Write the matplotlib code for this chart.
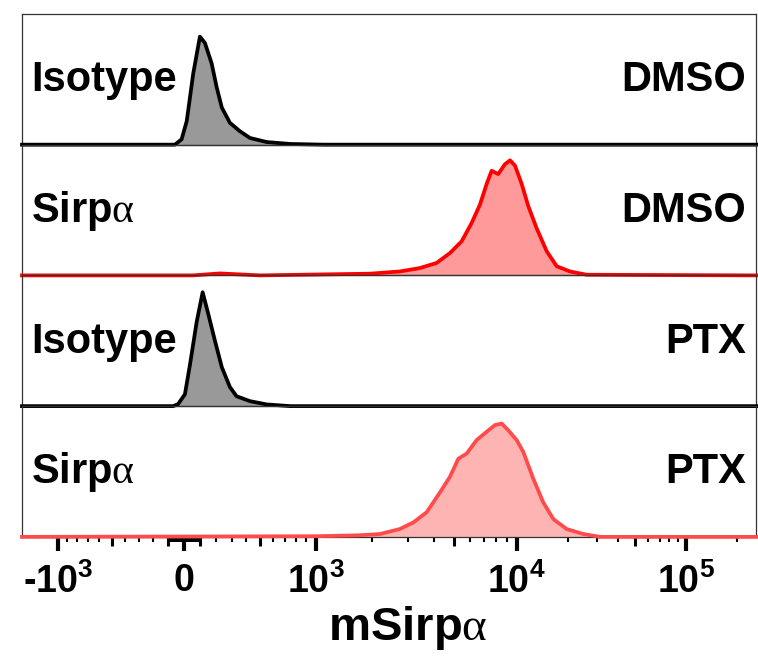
import numpy as np
import matplotlib
matplotlib.use("Agg")
import matplotlib.pyplot as plt

plt.rcParams['font.family'] = ['Liberation Sans', 'DejaVu Sans']
plt.rcParams['mathtext.fontset'] = 'custom'
plt.rcParams['mathtext.bf'] = 'Liberation Sans:bold'
plt.rcParams['mathtext.rm'] = 'Liberation Serif'

# x range of the cytometer axis
XMIN, XMAX = -1470, 262144

# histograms, % of panel height
iso_dmso_x = [XMIN, -58, -15, 17, 57, 98, 129, 171, 203, 236, 289, 356, 427, 552, 749, 1100, XMAX]
iso_dmso_y = [0, 0, 4.1, 18, 54.5, 82.6, 77.8, 62.2, 43.9, 28.4, 16.7, 10.3, 5.1, 2, 0.5, 0, 0]

sirp_dmso_x = [XMIN, 55, 224, 498, 1944, 2738, 3430, 4131, 4788, 5453, 6090, 6671, 7189, 7595,
               8162, 8785, 9296, 9814, 10703, 11711, 13132, 15050, 17255, 20685, 25956, XMAX]
sirp_dmso_y = [0, 0, 1.5, 0, 1.3, 3, 5.6, 9.5, 17, 26, 40, 54, 70, 80,
               77.5, 85, 88, 84, 70, 53, 36, 18.5, 7, 3, 0.5, 0]

iso_ptx_x = [XMIN, -70, -38, 6, 37, 78, 115, 150, 192, 236, 289, 333, 427, 552, 749, XMAX]
iso_ptx_y = [0, 0, 1.5, 9.1, 31.8, 64.4, 87.1, 70.5, 50, 29.8, 14.6, 7.6, 3.8, 1.3, 0, 0]

sirp_ptx_x = [XMIN, 1000, 1700, 2186, 2738, 3185, 3700, 4290, 4788, 5262, 5766, 6433, 7189,
              7874, 8477, 9107, 10000, 10941, 12530, 14350, 16485, 19768, 24780, 31150, XMAX]
sirp_ptx_y = [0, 0.5, 1.2, 2.2, 6, 11, 18.8, 34, 45.8, 59.8, 63.7, 74, 80.4,
              85.5, 86.7, 81.6, 74, 65, 44.6, 26.5, 13.6, 6, 2.2, 0, 0]

left_labels = ["Isotype", "Sirp$\\mathrm{\\alpha}$", "Isotype", "Sirp$\\mathrm{\\alpha}$"]
right_labels = ["DMSO", "DMSO", "PTX", "PTX"]

major_vals = [-1000, 0, 1000, 10000, 100000]
major_labels = ["-$\\mathbf{10^{3}}$", "0", "$\\mathbf{10^{3}}$", "$\\mathbf{10^{4}}$", "$\\mathbf{10^{5}}$"]
mid_vals = [-500, -100, 100, 500, 5000, 50000]

# logicle-like axis: arcsinh, stretched per decade to match the original
C = 700.0
_anchor_u = np.arcsinh(np.array(major_vals, dtype=float) / C)
_anchor_p = np.array([58.3, 184.0, 316.0, 516.7, 685.7])
_sl = (_anchor_p[1] - _anchor_p[0]) / (_anchor_u[1] - _anchor_u[0])
_sr = (_anchor_p[-1] - _anchor_p[-2]) / (_anchor_u[-1] - _anchor_u[-2])
U = np.concatenate([[-30.0], _anchor_u, [30.0]])
P = np.concatenate([[_anchor_p[0] - (_anchor_u[0] + 30) * _sl], _anchor_p,
                    [_anchor_p[-1] + (30 - _anchor_u[-1]) * _sr]])


def fwd(x):
    return np.interp(np.arcsinh(np.asarray(x, dtype=float) / C), U, P)


def inv(p):
    return C * np.sinh(np.interp(np.asarray(p, dtype=float), P, U))


minor_vals = []
for k in range(1, 10):
    minor_vals += [k * 10, -k * 10]
for k in range(2, 10):
    if k != 5:
        minor_vals += [k * 100, -k * 100, k * 1000, k * 10000]
minor_vals += [200000]

panels = [
    (iso_dmso_x, iso_dmso_y, "black", "#999999"),
    (sirp_dmso_x, sirp_dmso_y, "#ff0000", "#ff9a9a"),
    (iso_ptx_x, iso_ptx_y, "black", "#999999"),
    (sirp_ptx_x, sirp_ptx_y, "#ff4b4b", "#ffb4b4"),
]

fig, axes = plt.subplots(4, 1, figsize=(7.58, 6.62), dpi=100, sharex=True,
                         gridspec_kw=dict(hspace=0))
fig.subplots_adjust(left=0.029, right=0.998, top=0.979, bottom=0.189)

for i, ax in enumerate(axes):
    x, y, lc, fc = panels[i]
    ax.set_xscale('function', functions=(fwd, inv))
    ax.set_facecolor('none')
    ax.fill_between(x, y, color=fc, lw=0, clip_on=False, zorder=2)
    ax.plot(x, y, color=lc, lw=2.7, clip_on=False, zorder=3, solid_joinstyle='round')
    ax.set_ylim(0, 100)
    ax.set_xlim(XMIN, XMAX)
    ax.set_yticks([])
    for s in ax.spines.values():
        s.set_linewidth(0.9)
        s.set_color('#333333')
    ax.text(0.012, 0.41, left_labels[i], transform=ax.transAxes, fontsize=30,
            fontweight='bold', ha='left', va='baseline')
    ax.text(0.986, 0.41, right_labels[i], transform=ax.transAxes, fontsize=30,
            fontweight='bold', ha='right', va='baseline')
    if i < 3:
        ax.tick_params(axis='x', which='both', bottom=False, labelbottom=False)

ax = axes[-1]
ax.tick_params(axis='x', which='major', direction='out', length=10, width=3, pad=9,
               color='black')
ax.tick_params(axis='x', which='minor', direction='out', length=3.6, width=1.5,
               color='black')
ticks_all = major_vals + mid_vals
ax.set_xticks(ticks_all)
ax.set_xticklabels(major_labels + [""] * len(mid_vals), fontsize=27, fontweight='bold')
ax.set_xticks(minor_vals, minor=True)
for t, v in zip(ax.xaxis.get_major_ticks(), ticks_all):
    if v in mid_vals:
        t.tick1line.set_markersize(6.5)
        t.tick1line.set_markeredgewidth(2.2)

fig.text(0.538, 0.033, "mSirp$\\mathrm{\\alpha}$", fontsize=34, fontweight='bold',
         ha='center', va='baseline')

fig.savefig("out.png", dpi=100)
